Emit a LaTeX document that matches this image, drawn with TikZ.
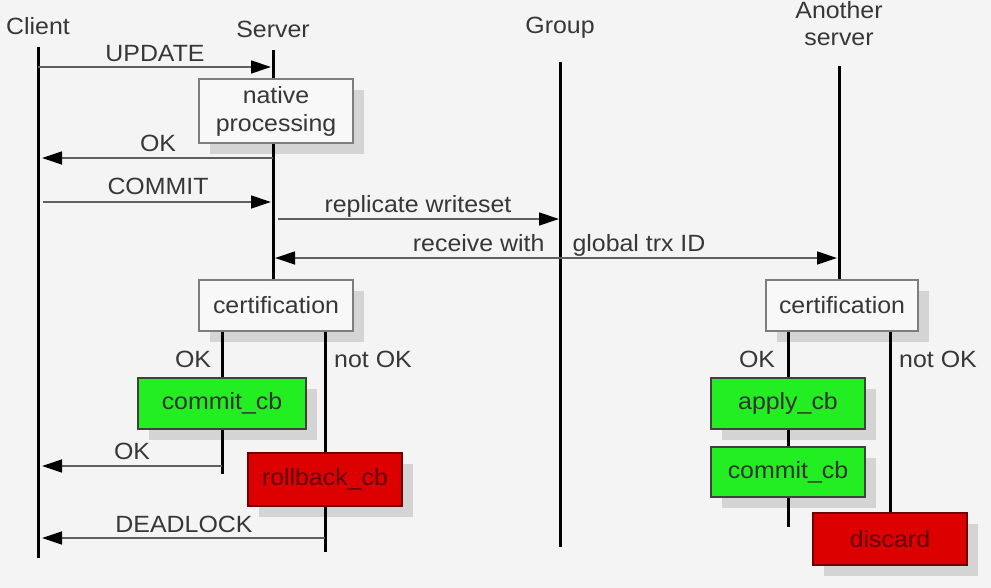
\documentclass[tikz,border=0pt]{standalone}
\usepackage{fontspec}
\setmainfont{Liberation Sans}[FakeStretch=1.06]
\usetikzlibrary{arrows.meta,shadows}
\definecolor{bgcol}{RGB}{244,244,244}
\definecolor{txtcol}{RGB}{55,55,55}
\definecolor{msgcol}{RGB}{95,95,95}
\definecolor{boxline}{RGB}{125,125,125}
\definecolor{boxfill}{RGB}{248,248,248}
\definecolor{shadowcol}{RGB}{212,212,212}
\definecolor{okgreen}{RGB}{34,238,34}
\definecolor{badred}{RGB}{221,0,0}
\definecolor{badtext}{RGB}{95,0,10}

\begin{document}
\begin{tikzpicture}[
    x=1pt, y=-1pt,
    every node/.style={font=\fontsize{23.5}{30}\selectfont, text=txtcol},
    life/.style={line width=3pt, black},
    msg/.style={line width=1.3pt, msgcol, -{Triangle[length=20pt, width=13pt, color=black]}},
    plainbox/.style={draw=boxline, fill=boxfill, line width=1.3pt, inner sep=0pt,
        minimum width=154pt, minimum height=51pt, align=center,
        drop shadow={shadow xshift=11pt, shadow yshift=-11pt, fill=shadowcol, opacity=1}},
    okbox/.style={plainbox, fill=okgreen, draw=black!75, text=black!80},
    badbox/.style={plainbox, fill=badred, draw=black!55!red, text=badtext},
    msglabel/.style={anchor=base},
]
    \useasboundingbox (0,0) rectangle (991,588);
    \fill[bgcol] (0,0) rectangle (991,588);

    % lifelines
    \node[anchor=base] (clientlbl) at (38,35) {Client};
    \node[anchor=base] (serverlbl) at (273,38) {Server};
    \node[anchor=base] (grouplbl) at (560,34) {Group};
    \node[anchor=base, align=center, font=\fontsize{23.5}{27}\selectfont] (anotherlbl) at (839,46) {Another\\server};
    \coordinate (client) at (38,47);
    \coordinate (clientEnd) at (38,558);
    \coordinate (server) at (273,50);
    \coordinate (group) at (560,62);
    \coordinate (groupEnd) at (560,547);
    \coordinate (another) at (839,66);

    \node[plainbox, minimum height=64pt] (native) at (276,111) {native\\[-2pt]processing};
    \node[plainbox] (cert1) at (276,305.5) {certification};
    \node[plainbox, minimum width=152pt] (cert2) at (842,305.5) {certification};

    \draw[life] (client) -- (clientEnd);
    \draw[life] (group) -- (groupEnd);
    \draw[life] (server) -- (server |- native.north);
    \draw[life] (server |- native.south) -- (server |- cert1.north);
    \draw[life] (another) -- (another |- cert2.north);

    % messages
    \draw[msg, shorten >=2pt] (client |- 0,67) -- (server |- 0,67);
    \node[msglabel] (update) at (155,62) {UPDATE};
    \draw[msg, shorten >=4pt] (server |- 0,158) -- (client |- 0,158);
    \node[msglabel] (ok1) at (158,152) {OK};
    \draw[msg, shorten <=5pt, shorten >=2pt] (client |- 0,202) -- (server |- 0,202);
    \node[msglabel] (commit) at (158,195) {COMMIT};
    \draw[msg, shorten <=5pt, shorten >=1pt] (server |- 0,219) -- (group |- 0,219);
    \node[msglabel] (replicate) at (418,213) {replicate writeset};
    \draw[msg, {Triangle[length=20pt, width=13pt, color=black]}-{Triangle[length=20pt, width=13pt, color=black]},
        shorten <=2pt, shorten >=2pt] (server |- 0,258) -- (another |- 0,258);
    \node[anchor=base east] (recv1) at (548,252) {receive with};
    \node[anchor=base west] (recv2) at (569,252) {global trx ID};

    % server branches
    \node[okbox, minimum width=168pt] (commit1) at (222,403.5) {commit\_cb};
    \node[badbox, minimum height=53pt] (rollback) at (325,479.5) {rollback\_cb};
    \draw[life] (commit1.north |- cert1.south) -- (commit1.north);
    \draw[life] (commit1.south) -- ++(0,44) coordinate (okEnd);
    \draw[life] (rollback.north |- cert1.south) -- (rollback.north);
    \draw[life] (rollback.south) -- ++(0,45) coordinate (rbEnd);
    \node[msglabel] (okl1) at (193,367) {OK};
    \node[msglabel] (notok1) at (373,367) {not OK};
    \draw[msg, shorten >=4pt] (okEnd |- 0,466) -- (client |- 0,466);
    \node[msglabel] (ok2) at (132,459) {OK};
    \draw[msg, shorten >=4pt] (rbEnd |- 0,538) -- (client |- 0,538);
    \node[msglabel] (deadlock) at (184,532) {DEADLOCK};

    % another server branches
    \node[okbox] (apply) at (788,403.5) {apply\_cb};
    \node[okbox, minimum height=50pt] (commit2) at (788,472) {commit\_cb};
    \node[badbox, minimum height=52pt] (discard) at (890,539) {discard};
    \draw[life] (apply.north |- cert2.south) -- (apply.north);
    \draw[life] (apply.south) -- (commit2.north);
    \draw[life] (commit2.south) -- ++(0,29);
    \draw[life] (discard.north |- cert2.south) -- (discard.north);
    \node[msglabel] (okl2) at (757,367) {OK};
    \node[msglabel] (notok2) at (938,367) {not OK};
\end{tikzpicture}
\end{document}
